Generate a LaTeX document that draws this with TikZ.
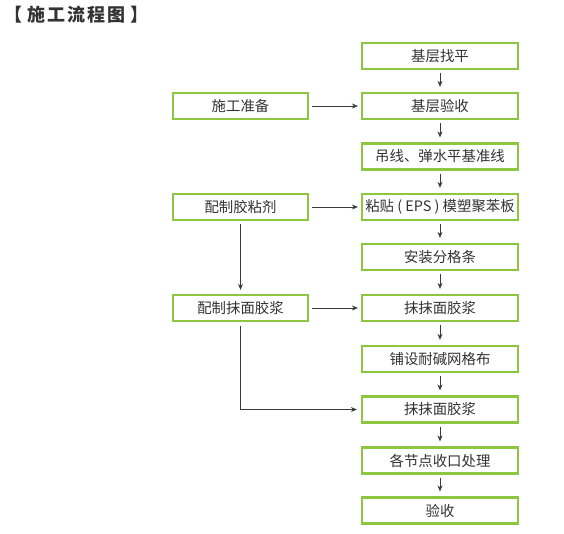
\documentclass[tikz,border=0pt]{standalone}
\usepackage{fontspec}
\setmainfont{Noto Sans CJK SC}
\usetikzlibrary{arrows.meta,positioning}
\definecolor{boxgreen}{HTML}{8DC63F}
\definecolor{txt}{HTML}{333333}
\definecolor{linec}{HTML}{3A3A3A}
\tikzset{
  stepbox/.style={draw=boxgreen,line width=2.2pt,fill=white,text=txt,minimum height=26pt,inner sep=0pt,font=\fontsize{14.4}{16}\selectfont},
  rbox/.style={stepbox,minimum width=156pt},
  lbox/.style={stepbox,minimum width=135pt},
  conn/.style={draw=linec,line width=0.7pt,-{Stealth[length=6pt,width=5pt]}}
}
\newcommand{\tsp}{\hspace{2pt}}
\begin{document}
\begin{tikzpicture}[x=1pt,y=-1pt]
\useasboundingbox (0,0) rectangle (564,534);
\node[anchor=west,text=txt,font=\fontsize{18}{20}\selectfont\bfseries,inner sep=0pt] (title) at (4,15) {【\hspace{5pt}施\tsp 工\tsp 流\tsp 程\tsp 图\hspace{5pt}】};
\node[rbox] (r1) at (440,56) {基层找平};
\node[rbox] (r2) at (440,106) {基层验收};
\node[rbox] (r3) at (440,156.5) {吊线、弹水平基准线};
\node[rbox] (r4) at (440,207) {粘贴 ( EPS ) 模塑聚苯板};
\node[rbox] (r5) at (440,257) {安装分格条};
\node[rbox] (r6) at (440,308) {抹抹面胶浆};
\node[rbox] (r7) at (440,359) {铺设耐碱网格布};
\node[rbox] (r8) at (440,409.5) {抹抹面胶浆};
\node[rbox] (r9) at (440,460.5) {各节点收口处理};
\node[rbox] (r10) at (440,510.5) {验收};
\node[lbox] (l1) at (240.5,106) {施工准备};
\node[lbox] (l2) at (240.5,207) {配制胶粘剂};
\node[lbox] (l3) at (240.5,308) {配制抹面胶浆};
\foreach \a/\b in {r1/r2,r2/r3,r3/r4,r4/r5,r5/r6,r6/r7,r7/r8,r8/r9,r9/r10}{
  \draw[conn,shorten <=3pt,shorten >=5pt] (\a.south) -- (\b.north);
}
\draw[conn,shorten <=3pt,shorten >=3pt] (l1.east) -- (r2.west);
\draw[conn,shorten <=3pt,shorten >=3pt] (l2.east) -- (r4.west);
\draw[conn,shorten <=3pt,shorten >=3pt] (l3.east) -- (r6.west);
\draw[conn,shorten <=3pt,shorten >=4pt] (l2.south) -- (l3.north);
\draw[conn,shorten <=4pt,shorten >=4pt] (l3.south) |- (r8.west);
\end{tikzpicture}
\end{document}
